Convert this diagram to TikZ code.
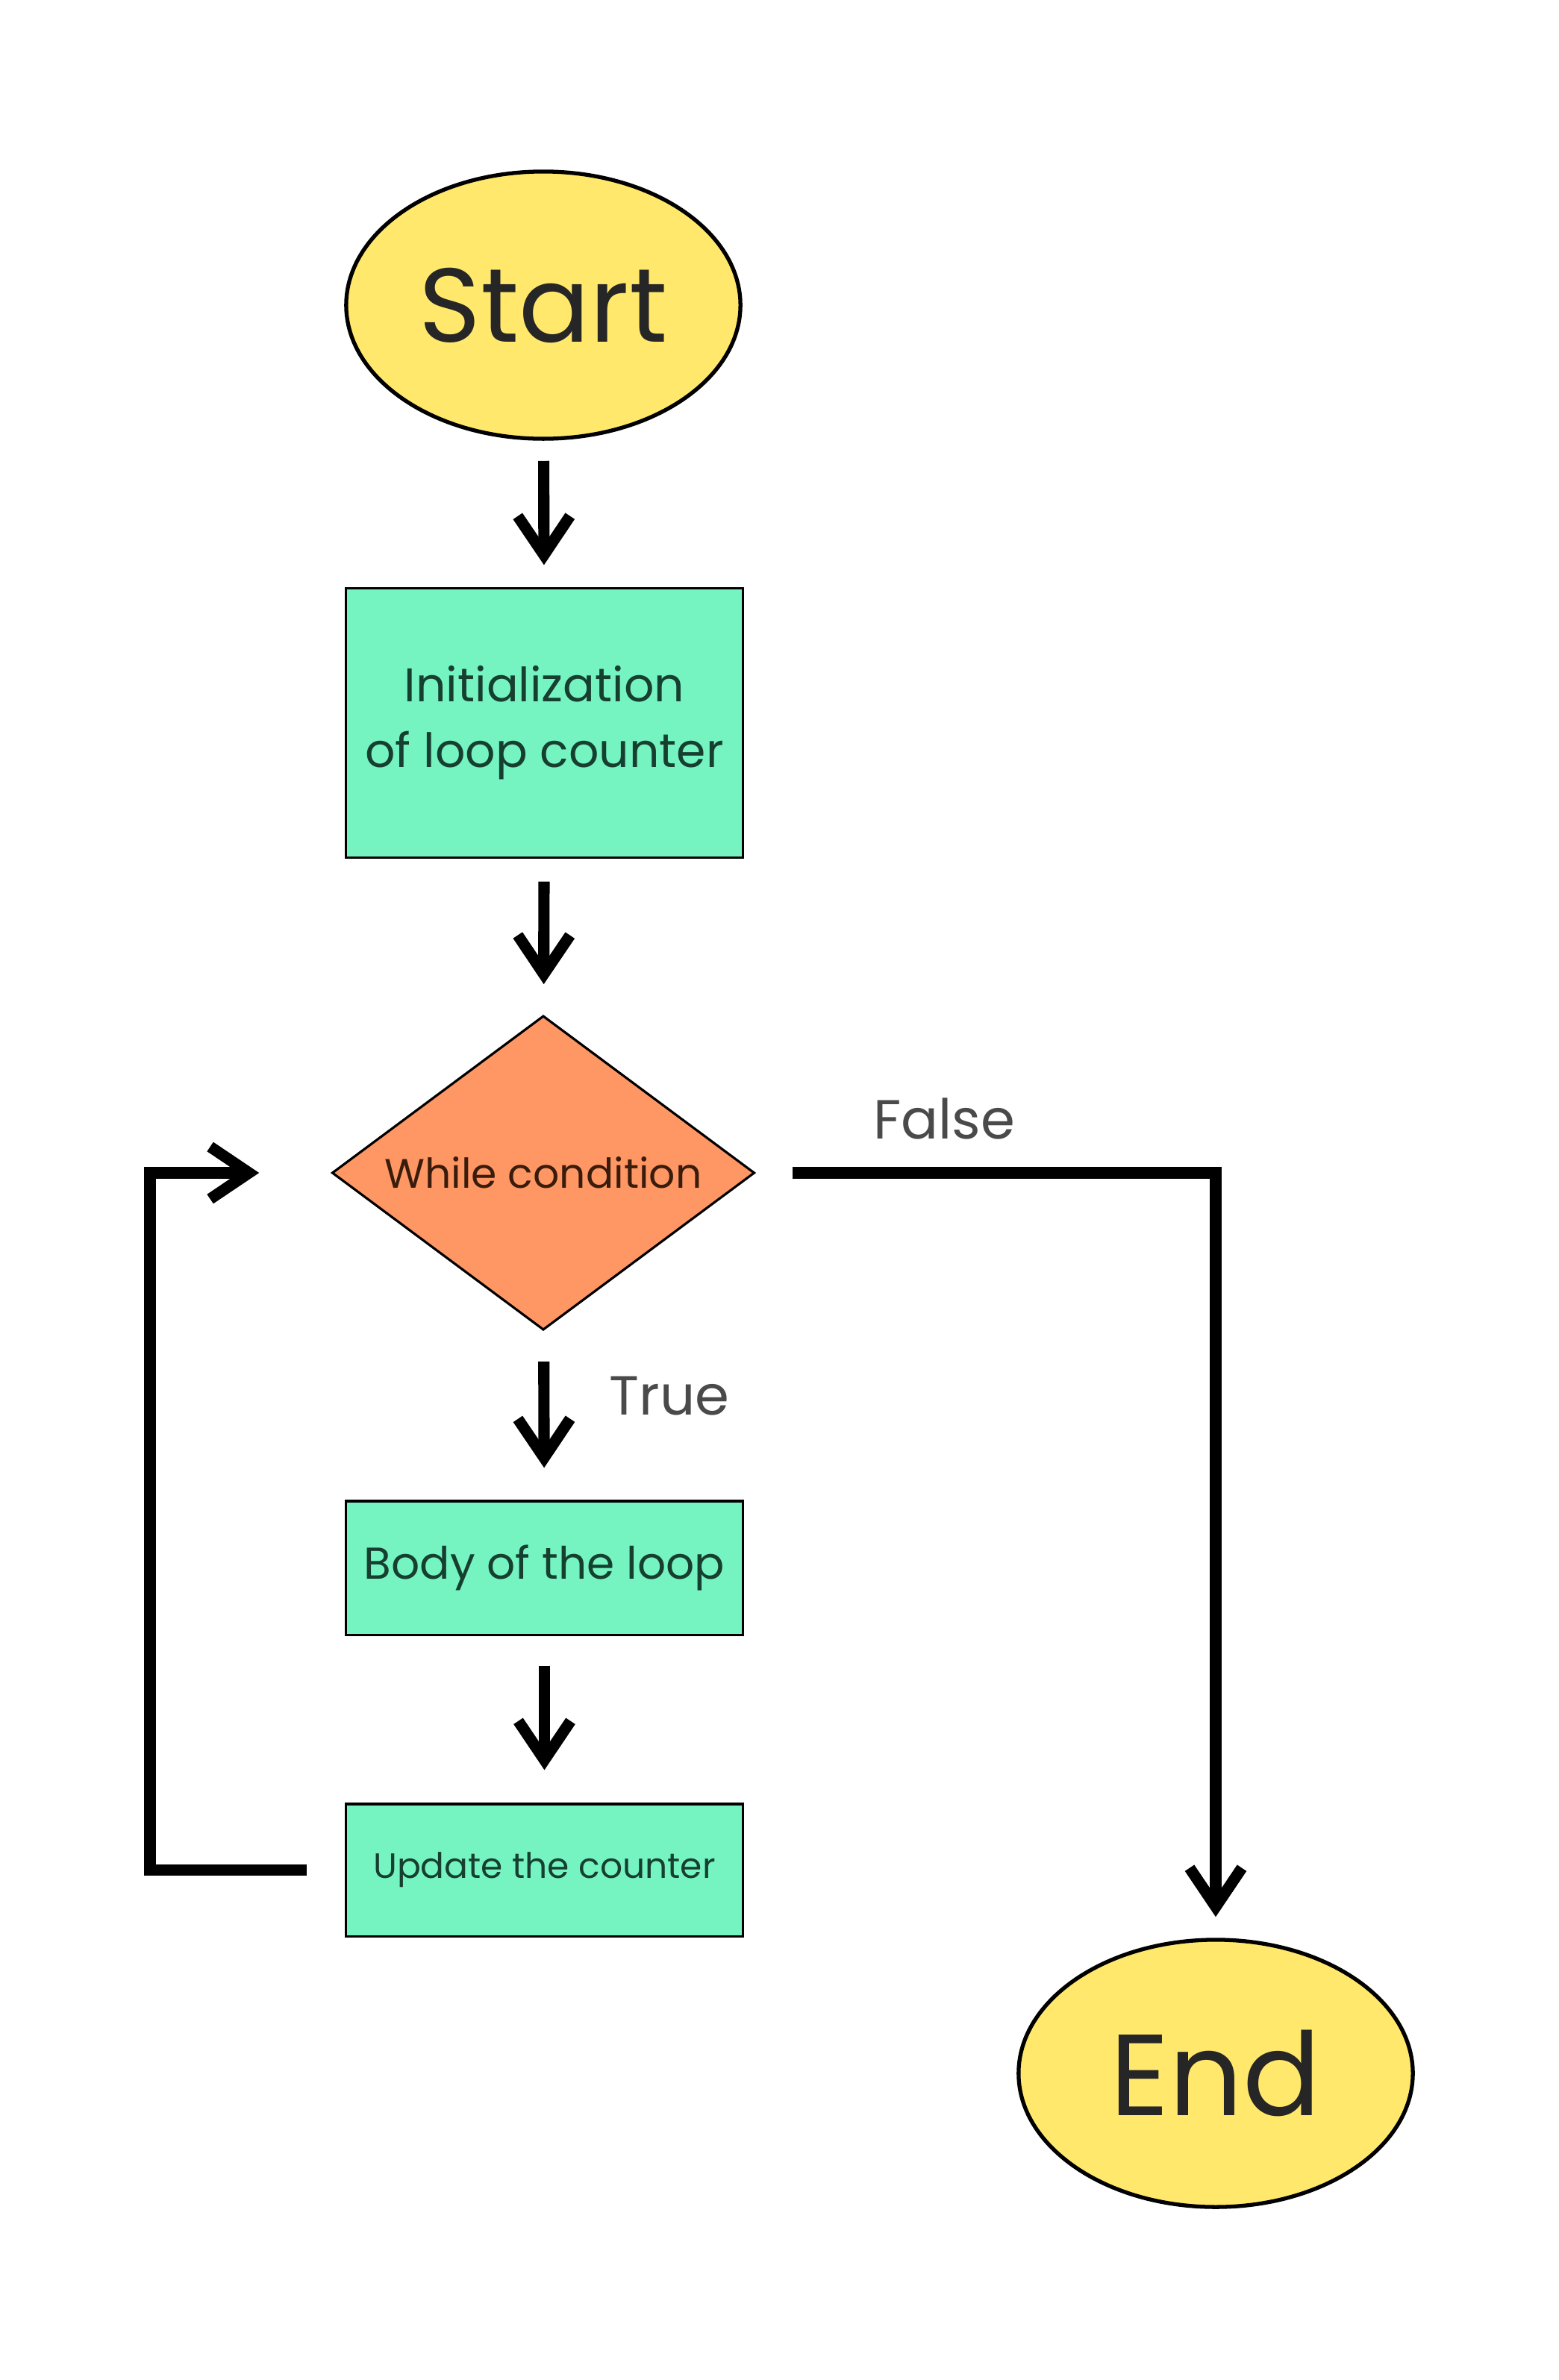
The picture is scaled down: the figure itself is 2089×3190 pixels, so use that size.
\documentclass[tikz,border=0pt]{standalone}
\usepackage{fontspec}
\setmainfont{Poppins}
\usetikzlibrary{shapes.geometric,arrows.meta}
\definecolor{termfill}{HTML}{FFE86B}
\definecolor{procfill}{HTML}{75F4C2}
\definecolor{condfill}{HTML}{FF9764}
\definecolor{proctext}{HTML}{163F30}
\definecolor{condtext}{HTML}{3A1C0C}
\definecolor{lbltext}{HTML}{4A4A4A}

\begin{document}
\begin{tikzpicture}[x=0.01cm,y=-0.01cm,
    term/.style={ellipse,draw,line width=1.5pt,fill=termfill,inner sep=0pt,
      minimum width=5.28cm,minimum height=3.58cm,text=black!85,
      font=\fontsize{40}{48}\selectfont},
    proc/.style={rectangle,draw,line width=0.9pt,fill=procfill,inner sep=0pt,
      minimum width=5.31cm,text=proctext,align=center},
    cond/.style={diamond,aspect=1.34,draw,line width=0.9pt,fill=condfill,inner sep=0pt,
      minimum width=5.66cm,minimum height=4.21cm,text=condtext,
      font=\fontsize{15.7}{19}\selectfont},
    lbl/.style={text=lbltext,font=\fontsize{21}{24}\selectfont},
    flow/.style={line width=4.3pt,-{Straight Barb[length=0.52cm,width=0.7cm,line join=miter]}}]
  \useasboundingbox (0,0) rectangle (2089,3190);
  % boxes
  \node[term] (start) at (728,409) {Start};
  \node[proc,minimum height=3.6cm,font=\fontsize{18}{25}\selectfont] (init) at (729.5,969)
    {Initialization\\of loop counter};
  \node[cond] (while) at (728,1572) {While condition};
  \node[proc,minimum height=1.79cm,font=\fontsize{17}{20}\selectfont] (body) at (729.5,2101.5)
    {Body of the loop};
  \node[proc,minimum height=1.77cm,font=\fontsize{13.4}{16}\selectfont] (update) at (729.5,2506.5)
    {Update the counter};
  \node[term,font=\fontsize{44}{52}\selectfont] (end) at (1629,2779) {End};
  \coordinate (back) at (201,1572);
  % arrows
  \draw[flow,shorten <=0.27cm,shorten >=0.3cm] (start) -- (init);
  \draw[flow,shorten <=0.31cm,shorten >=0.41cm] (init) -- (while);
  \draw[flow,shorten <=0.41cm,shorten >=0.43cm] (while) -- (body);
  \draw[flow,shorten <=0.4cm,shorten >=0.44cm] (body) -- (update);
  \draw[flow,shorten <=0.49cm,shorten >=0.28cm] (while) -| (end);
  \draw[flow,shorten <=0.51cm,shorten >=0.96cm] (update) -| (back) -- (while);
  % branch labels
  \node[lbl] (truelbl) at (897,1871) {True};
  \node[lbl] (falselbl) at (1265,1499) {False};
\end{tikzpicture}
\end{document}
